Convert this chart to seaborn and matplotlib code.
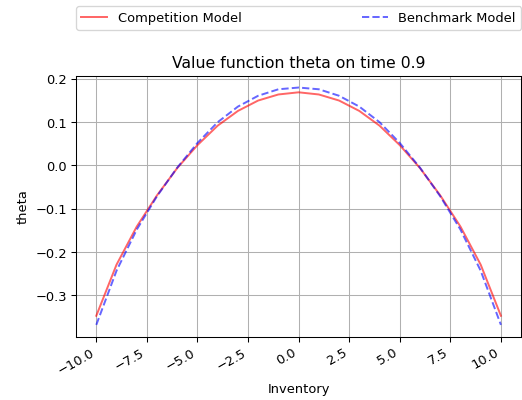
import numpy as np
import pandas as pd
import matplotlib
matplotlib.use("Agg")
import matplotlib.pyplot as plt
import seaborn as sns

inventory = [-10, -9, -8, -7, -6, -5, -4, -3, -2, -1, 0, 1, 2, 3, 4, 5, 6, 7, 8, 9, 10]
competition = [-0.347, -0.229, -0.141, -0.069, -0.006, 0.047, 0.092, 0.126, 0.150, 0.164, 0.169,
               0.164, 0.150, 0.126, 0.092, 0.047, -0.006, -0.069, -0.141, -0.229, -0.347]
benchmark = [-0.368, -0.243, -0.148, -0.071, -0.005, 0.052, 0.100, 0.136, 0.161, 0.176, 0.180,
             0.176, 0.161, 0.136, 0.100, 0.052, -0.005, -0.071, -0.148, -0.243, -0.368]

df = pd.DataFrame({"Inventory": inventory, "comp": competition, "bench": benchmark})

DPI = 94
plt.rcParams['font.family'] = ['DejaVu Sans']
fig = plt.figure(figsize=(522.4 / DPI, 400.4 / DPI), dpi=DPI)
ax = fig.add_axes([0.1456, 0.158, 0.852, 0.652])

sns.lineplot(data=df, x="Inventory", y="comp", ax=ax, color="red", alpha=0.6,
             linewidth=1.5, label="Competition Model")
sns.lineplot(data=df, x="Inventory", y="bench", ax=ax, color="blue", alpha=0.6,
             linewidth=1.5, linestyle="--", label="Benchmark Model")

ax.grid(True, color="#b0b0b0", linewidth=0.8)
ax.set_xticks([-10, -7.5, -5, -2.5, 0, 2.5, 5, 7.5, 10])
ax.set_xticklabels(["−10.0", "−7.5", "−5.0", "−2.5", "0.0", "2.5", "5.0", "7.5", "10.0"],
                   rotation=30, ha="right", fontsize=10)
ax.set_yticks([-0.3, -0.2, -0.1, 0.0, 0.1, 0.2])
ax.set_yticklabels(["−0.3", "−0.2", "−0.1", "0.0", "0.1", "0.2"], fontsize=10)
ax.set_xlabel("Inventory", fontsize=10)
ax.set_ylabel("theta", fontsize=10)
ax.set_title("Value function theta on time 0.9", fontsize=12)
ax.legend(loc="lower left", bbox_to_anchor=(0, 1.176, 1, 0.1), mode="expand", ncol=2,
          borderaxespad=0.0, fontsize=10, frameon=True)

fig.savefig("out.png", dpi=DPI)
